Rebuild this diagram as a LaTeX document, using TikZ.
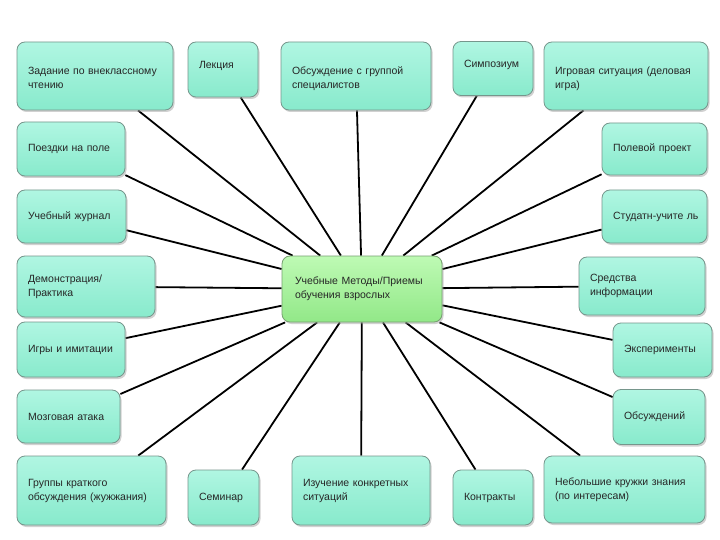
\documentclass[tikz,border=0pt]{standalone}
\usepackage{fontspec}
\setmainfont{Liberation Sans}
\usetikzlibrary{shadows,backgrounds}
\definecolor{mintTop}{RGB}{176,246,226}
\definecolor{mintBot}{RGB}{136,234,204}
\definecolor{mintLine}{RGB}{118,150,140}
\definecolor{leafTop}{RGB}{190,250,180}
\definecolor{leafBot}{RGB}{146,232,136}
\definecolor{leafLine}{RGB}{118,160,112}

\begin{document}
\begin{tikzpicture}[x=1pt,y=-1pt,
  met/.style={draw=mintLine, line width=0.8pt, rounded corners=8pt,
    top color=mintTop, bottom color=mintBot,
    drop shadow={shadow xshift=1.5pt, shadow yshift=-2pt, fill=black!40, opacity=0.45},
    align=left, inner xsep=11pt, font=\fontsize{10.5}{14}\selectfont, text=black!85},
  toprow/.style={text depth=10pt},
  hub/.style={met, draw=leafLine, top color=leafTop, bottom color=leafBot, inner xsep=13pt},
  spoke/.style={line width=1.8pt, black}]
\useasboundingbox (0,0) rectangle (720,540);

% centre
\node[hub, minimum height=66, text width=134pt] (mid) at (362,289) {Учебные Методы/Приемы\\обучения взрослых};

% top row
\node[met, toprow, minimum height=68, text width=134pt] (zad) at (95,76) {Задание по внеклассному\\чтению};
\node[met, toprow, minimum height=55, text width=48pt] (lek) at (223,69.5) {Лекция};
\node[met, toprow, minimum height=68, text width=128pt] (obs) at (356,76) {Обсуждение с группой\\специалистов};
\node[met, toprow, minimum height=54, text width=58pt] (sim) at (493,68.5) {Симпозиум};
\node[met, toprow, minimum height=68, text width=142pt] (igr) at (626,76) {Игровая ситуация (деловая\\игра)};

% left column
\node[met, minimum height=54, text width=86pt] (pzd) at (71,149) {Поездки на поле};
\node[met, minimum height=53, text width=87pt] (zhu) at (71.5,216.5) {Учебный журнал};
\node[met, minimum height=61, text width=116pt] (dem) at (86,286.5) {Демонстрация/\\Практика};
\node[met, minimum height=55, text width=86pt] (igi) at (71,349.5) {Игры и имитации};
\node[met, minimum height=53, text width=81pt] (moz) at (68.5,416.5) {Мозговая атака};
\node[met, minimum height=69, text width=127pt] (grp) at (91.5,490.5) {Группы краткого\\обсуждения (жужжания)};

% bottom row
\node[met, minimum height=55, text width=49pt] (sem) at (223.5,497.5) {Семинар};
\node[met, minimum height=69, text width=116pt] (izu) at (361,490.5) {Изучение конкретных\\ситуаций};
\node[met, minimum height=55, text width=58pt] (kon) at (493,497.5) {Контракты};
\node[met, minimum height=67, text width=139pt] (neb) at (624.5,489.5) {Небольшие кружки знания\\(по интересам)};

% right column
\node[met, minimum height=52, text width=83pt] (pol) at (654.5,149) {Полевой проект};
\node[met, minimum height=53, text width=83pt] (stu) at (654.5,216.5) {\mbox{Студатн-учите ль}};
\node[met, minimum height=58, text width=104pt] (sre) at (642,286) {Средства\\информации};
\node[met, minimum height=54, text width=77pt] (eks) at (662.5,350) {Эксперименты};
\node[met, minimum height=55, text width=70pt] (obd) at (659,417) {Обсуждений};

\begin{scope}[on background layer]
\fill[white] (0,0) rectangle (720,540);
\foreach \n in {zad,lek,obs,sim,igr,pzd,zhu,dem,igi,moz,grp,sem,izu,kon,neb,pol,stu,sre,eks,obd}
  \draw[spoke] (\n) -- (mid);
\end{scope}
\end{tikzpicture}
\end{document}
